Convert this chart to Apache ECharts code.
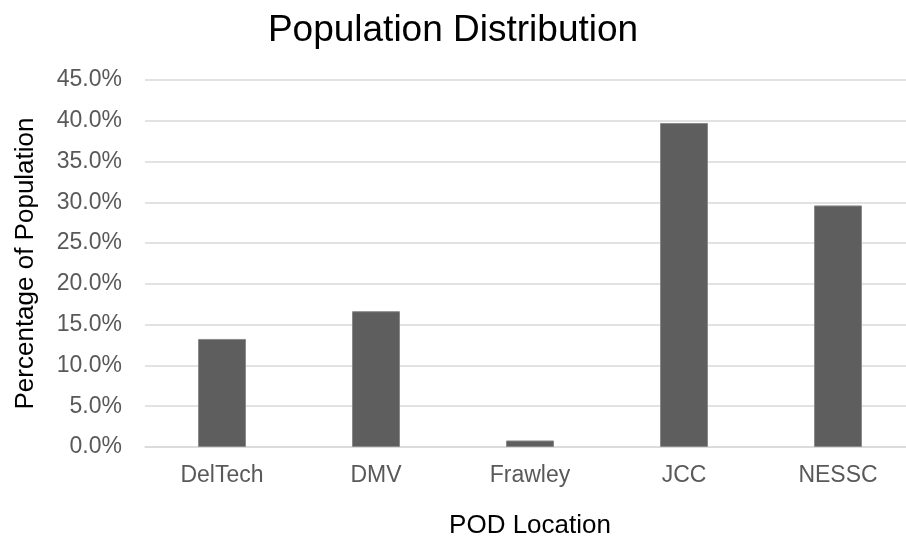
<!DOCTYPE html>
<html>
<head>
<meta charset="utf-8">
<script src="https://cdn.jsdelivr.net/npm/echarts@6/dist/echarts.min.js"></script>
<style>html,body{margin:0;padding:0;background:#fff;}#chart{width:906px;height:540px;}</style>
</head>
<body>
<div id="chart"></div>
<script>
const categories = ['DelTech', 'DMV', 'Frawley', 'JCC', 'NESSC'];
const shares = [13.25, 16.65, 0.8, 39.73, 29.62];
const yMin = 0, yMax = 45, yStep = 5;

const chart = echarts.init(document.getElementById('chart'));
chart.setOption({
  animation: false,
  backgroundColor: '#ffffff',
  textStyle: { fontFamily: 'Liberation Sans, Arial, sans-serif' },
  title: {
    text: 'Population Distribution',
    left: 'center',
    top: 7,
    textStyle: { fontSize: 37, fontWeight: 'normal', color: '#000000', fontFamily: 'Liberation Sans, Arial, sans-serif' }
  },
  grid: { left: 145, right: -9, top: 80, bottom: 93, containLabel: false, outerBoundsMode: 'none' },
  xAxis: {
    type: 'category',
    data: categories,
    name: 'POD Location',
    nameLocation: 'middle',
    nameGap: 66,
    nameTextStyle: { fontSize: 26, color: '#000000' },
    axisLine: { show: true, lineStyle: { color: '#d9d9d9', width: 1.5 } },
    axisTick: { show: false },
    axisLabel: { fontSize: 23, color: '#595959', margin: 17 }
  },
  yAxis: {
    type: 'value',
    min: yMin,
    max: yMax,
    interval: yStep,
    name: 'Percentage of Population',
    nameLocation: 'middle',
    nameGap: 106,
    nameTextStyle: { fontSize: 26, color: '#000000' },
    axisLine: { show: false },
    axisTick: { show: false },
    axisLabel: { fontSize: 23, color: '#595959', margin: 23, formatter: v => v.toFixed(1) + '%' },
    splitLine: { lineStyle: { color: '#d9d9d9', width: 1.5 } }
  },
  series: [{
    type: 'bar',
    data: shares,
    barWidth: 48,
    itemStyle: { color: '#5e5e5e', borderColor: '#8a8a8a', borderWidth: 1 }
  }]
});
</script>
</body>
</html>
